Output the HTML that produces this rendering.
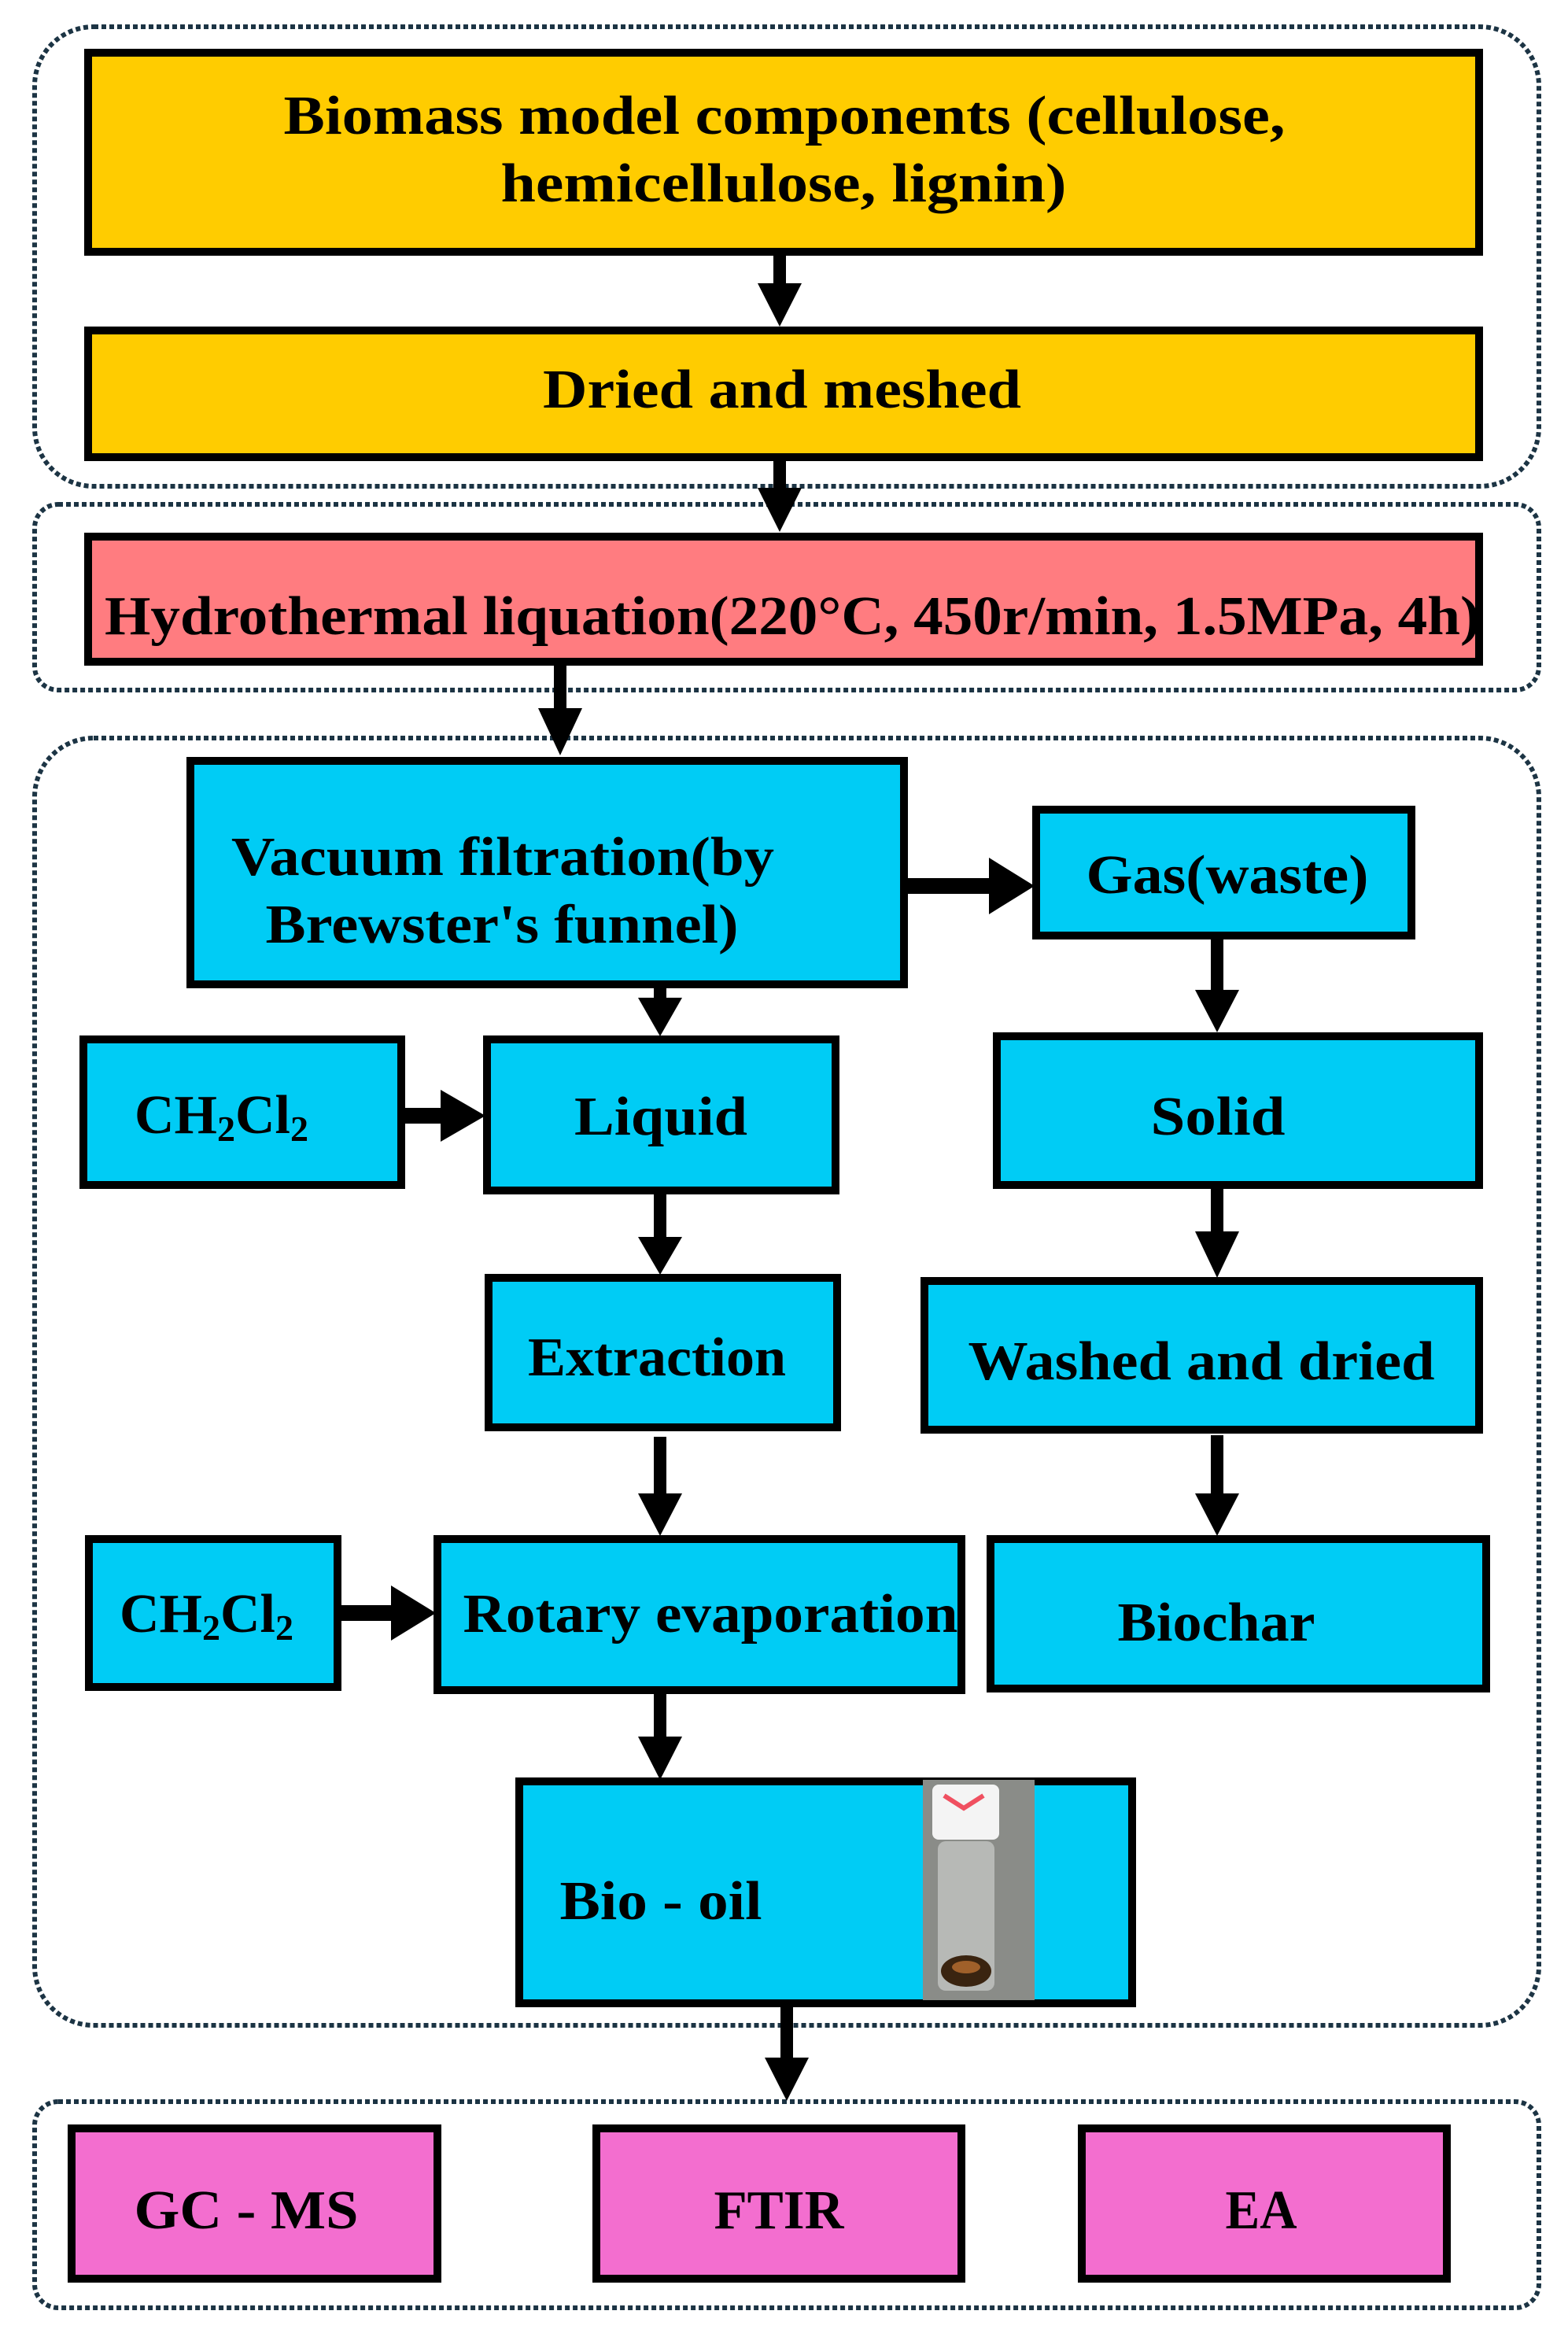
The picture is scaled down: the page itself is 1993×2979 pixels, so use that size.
<!DOCTYPE html>
<html><head><meta charset="utf-8"><style>
html,body{margin:0;padding:0;background:#fff;}
svg{display:block}
text{font-family:"Liberation Serif",serif;font-weight:bold;fill:#000;}
</style></head><body>
<svg width="1993" height="2979" viewBox="0 0 1993 2979" xmlns="http://www.w3.org/2000/svg">
<!-- dotted groups -->
<g fill="none" stroke="#1c3444" stroke-width="6" stroke-dasharray="6 4">
<rect x="44" y="34" width="1912" height="584" rx="75"/>
<rect x="44" y="641" width="1912" height="236" rx="30"/>
<rect x="44" y="938" width="1912" height="1636" rx="75"/>
<rect x="44" y="2671" width="1912" height="262" rx="30"/>
</g>
<!-- boxes -->
<g stroke="#000" stroke-width="10">
<rect x="112" y="67" width="1768" height="253" fill="#FFCC00"/>
<rect x="112" y="420" width="1768" height="161" fill="#FFCC00"/>
<rect x="112" y="682" width="1768" height="159" fill="#FF7C80"/>
<rect x="242" y="967" width="907" height="284" fill="#00CCF5"/>
<rect x="1317" y="1029" width="477" height="160" fill="#00CCF5"/>
<rect x="106" y="1321" width="404" height="185" fill="#00CCF5"/>
<rect x="619" y="1321" width="443" height="192" fill="#00CCF5"/>
<rect x="1267" y="1317" width="613" height="189" fill="#00CCF5"/>
<rect x="621" y="1624" width="443" height="190" fill="#00CCF5"/>
<rect x="1175" y="1628" width="705" height="189" fill="#00CCF5"/>
<rect x="113" y="1956" width="316" height="188" fill="#00CCF5"/>
<rect x="556" y="1956" width="666" height="192" fill="#00CCF5"/>
<rect x="1259" y="1956" width="630" height="190" fill="#00CCF5"/>
<rect x="660" y="2264" width="779" height="282" fill="#00CCF5"/>
<rect x="91" y="2705" width="465" height="191" fill="#F36ECF"/>
<rect x="758" y="2705" width="464" height="191" fill="#F36ECF"/>
<rect x="1375" y="2705" width="464" height="191" fill="#F36ECF"/>
</g>
<!-- vial photo -->
<rect x="1173" y="2262" width="142" height="280" fill="#8a8c88"/>
<rect x="1185" y="2268" width="85" height="70" rx="8" fill="#f4f4f4"/>
<path d="M1200,2282 L1225,2298 L1250,2282" stroke="#f05060" stroke-width="6" fill="none"/>
<rect x="1192" y="2340" width="72" height="190" rx="10" fill="#b7b9b6"/>
<ellipse cx="1228" cy="2505" rx="32" ry="20" fill="#3a2410"/>
<ellipse cx="1228" cy="2500" rx="18" ry="8" fill="#a0602a"/>
<!-- arrows -->
<g fill="#000">
<!-- down arrows: shaft + head -->
<rect x="983" y="322" width="16" height="40"/><polygon points="963,360 1019,360 991,415"/>
<rect x="983" y="584" width="16" height="40"/><polygon points="963,620 1019,620 991,676"/>
<rect x="704" y="843" width="16" height="60"/><polygon points="684,900 740,900 712,960"/>
<rect x="831" y="1253" width="16" height="20"/><polygon points="811,1268 867,1268 839,1317"/>
<rect x="1539" y="1191" width="16" height="70"/><polygon points="1519,1258 1575,1258 1547,1312"/>
<rect x="831" y="1515" width="16" height="60"/><polygon points="811,1572 867,1572 839,1620"/>
<rect x="1539" y="1508" width="16" height="60"/><polygon points="1519,1565 1575,1565 1547,1624"/>
<rect x="831" y="1826" width="16" height="75"/><polygon points="811,1898 867,1898 839,1952"/>
<rect x="1539" y="1824" width="16" height="77"/><polygon points="1519,1898 1575,1898 1547,1952"/>
<rect x="831" y="2150" width="16" height="60"/><polygon points="811,2207 867,2207 839,2262"/>
<rect x="992" y="2548" width="16" height="70"/><polygon points="972,2615 1028,2615 1000,2670"/>
<!-- right arrows -->
<rect x="1151" y="1116" width="110" height="20"/><polygon points="1257,1090 1257,1162 1315,1126"/>
<rect x="512" y="1408" width="50" height="20"/><polygon points="560,1385 560,1451 617,1418"/>
<rect x="431" y="2040" width="70" height="20"/><polygon points="497,2015 497,2085 554,2050"/>
</g>
<!-- text -->
<g font-size="70" text-anchor="middle" lengthAdjust="spacingAndGlyphs">
<text x="997" y="170" textLength="1273" lengthAdjust="spacingAndGlyphs">Biomass model components (cellulose,</text>
<text x="996" y="256" textLength="719" lengthAdjust="spacingAndGlyphs">hemicellulose, lignin)</text>
<text x="994" y="518" textLength="608" lengthAdjust="spacingAndGlyphs">Dried and meshed</text>
<text x="1007" y="806" textLength="1748" lengthAdjust="spacingAndGlyphs">Hydrothermal liquation(220°C, 450r/min, 1.5MPa, 4h)</text>
<text x="639" y="1112" textLength="690" lengthAdjust="spacingAndGlyphs">Vacuum filtration(by</text>
<text x="638" y="1198" textLength="601" lengthAdjust="spacingAndGlyphs">Brewster's funnel)</text>
<text x="1560" y="1135" textLength="359" lengthAdjust="spacingAndGlyphs">Gas(waste)</text>
<text x="840" y="1442" textLength="220" lengthAdjust="spacingAndGlyphs">Liquid</text>
<text x="1548" y="1442" textLength="171" lengthAdjust="spacingAndGlyphs">Solid</text>
<text x="835" y="1748" textLength="328" lengthAdjust="spacingAndGlyphs">Extraction</text>
<text x="1527" y="1753" textLength="593" lengthAdjust="spacingAndGlyphs">Washed and dried</text>
<text x="903" y="2074" textLength="629" lengthAdjust="spacingAndGlyphs">Rotary evaporation</text>
<text x="1546" y="2085" textLength="251" lengthAdjust="spacingAndGlyphs">Biochar</text>
<text x="840" y="2439" textLength="257" lengthAdjust="spacingAndGlyphs">Bio - oil</text>
<text x="313" y="2832" textLength="285" lengthAdjust="spacingAndGlyphs">GC - MS</text>
<text x="990" y="2832" textLength="165" lengthAdjust="spacingAndGlyphs">FTIR</text>
<text x="1603" y="2832" textLength="91" lengthAdjust="spacingAndGlyphs">EA</text>
</g>
<g font-size="70">
<text x="171" y="1440">CH<tspan font-size="46" dy="10">2</tspan><tspan dy="-10">Cl</tspan><tspan font-size="46" dy="10">2</tspan></text>
<text x="152" y="2074">CH<tspan font-size="46" dy="10">2</tspan><tspan dy="-10">Cl</tspan><tspan font-size="46" dy="10">2</tspan></text>
</g>
</svg>
</body></html>
